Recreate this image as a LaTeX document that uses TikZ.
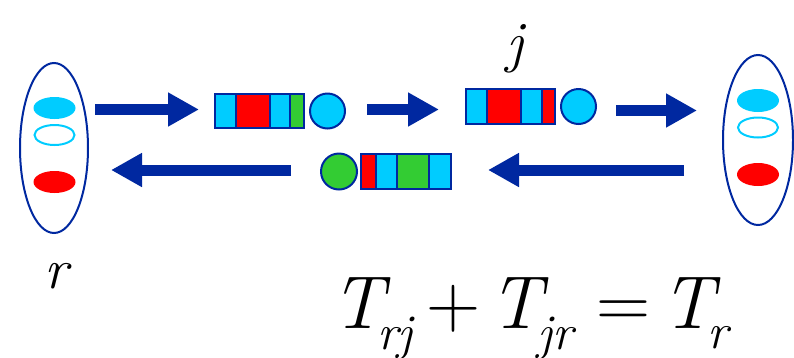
\documentclass[tikz,border=0pt]{standalone}
\usepackage{fontspec}
\usetikzlibrary{shapes.geometric,arrows.meta}
\definecolor{dblue}{RGB}{0,40,160}
\definecolor{cyanC}{RGB}{0,204,255}
\definecolor{redC}{RGB}{255,0,0}
\definecolor{greenC}{RGB}{51,204,51}
\tikzset{
  x=1pt, y=-1pt,
  outer/.style={ellipse, draw=dblue, line width=2pt, inner sep=0pt, minimum width=68pt, minimum height=170pt},
  dot/.style={ellipse, inner sep=0pt, minimum width=42pt, minimum height=22pt},
  hollow/.style={ellipse, draw=cyanC, line width=2pt, inner sep=0pt, minimum width=40pt, minimum height=20pt},
  cell/.style={draw=dblue, line width=2pt},
  ball/.style={circle, draw=dblue, line width=2pt, inner sep=0pt, minimum size=35pt},
  blockarrow/.style={draw=dblue, line width=11pt, -{Triangle[length=31pt,width=32pt]}},
  bigT/.style={inner sep=0pt, font=\fontsize{75}{77}\selectfont\itshape},
  subs/.style={inner sep=0pt, font=\fontsize{50}{52}\selectfont\itshape},
  ops/.style={inner sep=0pt, font=\fontsize{75}{77}\selectfont},
  lab/.style={inner sep=0pt, font=\fontsize{57}{59}\selectfont\itshape}
}
\begin{document}
\begin{tikzpicture}
\useasboundingbox (0,0) rectangle (794,357);
% left ellipse r
\node[outer] (L) at (54,148) {};
\node[dot, fill=cyanC] (L1) at (54.5,108) {};
\node[hollow] (L2) at (54.5,135) {};
\node[dot, fill=redC] (L3) at (54.5,182) {};
% right ellipse
\node[outer, minimum width=70pt] (R) at (758,140) {};
\node[dot, fill=cyanC, minimum height=23pt] (R1) at (758,100.5) {};
\node[hollow] (R2) at (758,127.5) {};
\node[dot, fill=redC, minimum height=23pt] (R3) at (758,174.5) {};
% queue 1
\draw[cell, fill=cyanC] (215,94) rectangle (236,128);
\draw[cell, fill=redC] (236,94) rectangle (270,128);
\draw[cell, fill=cyanC] (270,94) rectangle (290,128);
\draw[cell, fill=greenC] (290,94) rectangle (304,128);
\node[ball, fill=cyanC] (b1) at (327.5,111) {};
% queue 2
\draw[cell, fill=cyanC] (466,89) rectangle (487,124);
\draw[cell, fill=redC] (487,89) rectangle (521,124);
\draw[cell, fill=cyanC] (521,89) rectangle (542,124);
\draw[cell, fill=redC] (542,89) rectangle (555,124);
\node[ball, fill=cyanC] (b2) at (578.5,106.5) {};
% queue 3
\node[ball, fill=greenC, minimum size=36pt] (b3) at (339,171.5) {};
\draw[cell, fill=redC] (361,154) rectangle (376,189);
\draw[cell, fill=cyanC] (376,154) rectangle (397,189);
\draw[cell, fill=greenC] (397,154) rectangle (429,189);
\draw[cell, fill=cyanC] (429,154) rectangle (451,189);
% arrows
\coordinate (a1s) at (95,109.5);  \coordinate (a1e) at (199,109.5);
\coordinate (a2s) at (367,109.5); \coordinate (a2e) at (439,109.5);
\coordinate (a3s) at (616,110.5); \coordinate (a3e) at (697,110.5);
\coordinate (a4s) at (684,170);   \coordinate (a4e) at (488,170);
\coordinate (a5s) at (291,170);   \coordinate (a5e) at (111,170);
\draw[blockarrow] (a1s) -- (a1e);
\draw[blockarrow] (a2s) -- (a2e);
\draw[blockarrow] (a3s) -- (a3e);
\draw[blockarrow] (a4s) -- (a4e);
\draw[blockarrow] (a5s) -- (a5e);
% labels
\node[lab, anchor=base] (jl) at (515,61) {j};
\node[lab, anchor=base] (rl) at (56,288) {r};
% equation
\node[bigT, anchor=base] (T1) at (358,328) {T};
\node[subs, anchor=base] (s1) at (395,349) {rj};
\node[ops, anchor=base] (p) at (453,327) {+};
\node[bigT, anchor=base] (T2) at (516,328) {T};
\node[subs, anchor=base] (s2) at (555,349) {jr};
\node[ops, anchor=base] (eq) at (623.5,327.5) {=};
\node[bigT, anchor=base] (T3) at (688,328) {T};
\node[subs, anchor=base] (s3) at (718,348) {r};
\end{tikzpicture}
\end{document}
